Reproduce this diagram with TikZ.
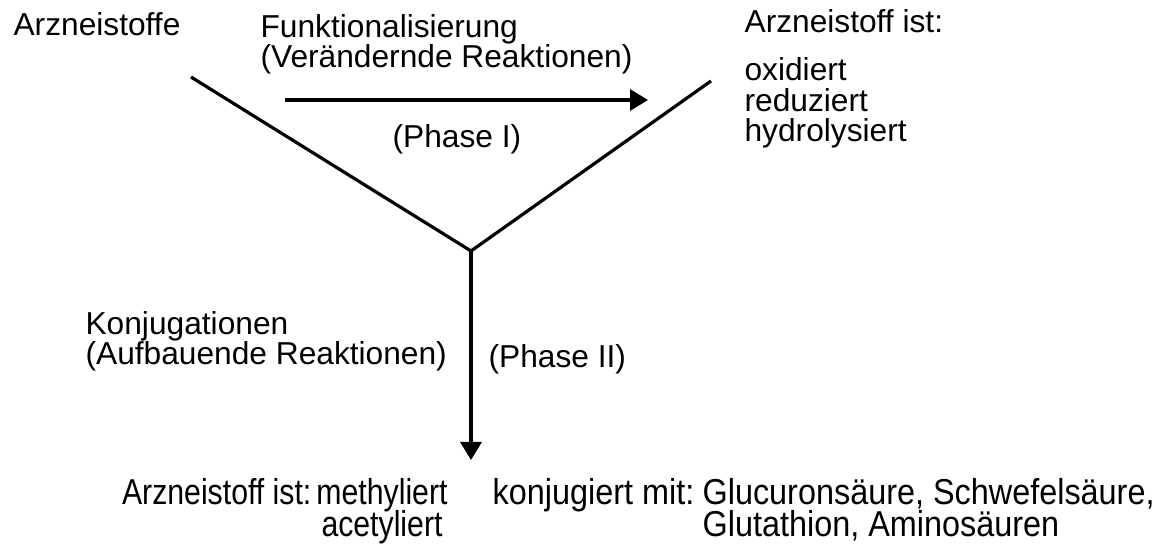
\documentclass[tikz,border=0pt]{standalone}
\usepackage{fontspec}
\setmainfont{Liberation Sans}
\newfontfamily\narrowfont[FakeStretch=0.9]{Liberation Sans}
\newfontfamily\narrowerfont[FakeStretch=0.84]{Liberation Sans}
\lineskiplimit=-\maxdimen
\usetikzlibrary{arrows.meta,positioning}
\tikzset{
  every picture/.style = {
    line width = 1.6pt,
    >={Triangle[length=9pt,width=10.5pt]},
    x = 0.5pt,
    y = -0.5pt
  }
  , % labels of phases and substances
  label-text/.style = {
    font = \fontsize{15.85}{15.25}\selectfont,
    inner sep = 0pt,
    align = left
  }
  , % labels under the arrow
  label-narrow/.style = {
    label-text,
    font = \narrowfont\fontsize{18}{16}\selectfont
  }
  ,
  label-narrower/.style = {
    label-text,
    font = \narrowerfont\fontsize{18}{16}\selectfont
  }
}
\begin{document}
\begin{tikzpicture}
    \useasboundingbox (0,0) rectangle (1162,544);
    \coordinate (tl) at (191,77);
    \coordinate (apex) at (471,251);
    \coordinate (tr) at (711,81);
    \coordinate (bot) at (471,460);
    \coordinate (ph1s) at (285,100);
    \coordinate (ph1e) at (648,100);
    \draw (tl) -- (apex) -- (tr);
    \draw [->] (apex) -- (bot);
    \draw [->] (ph1s) -- (ph1e);
    % phase I
    \node [label-text, anchor = base west] (drug) at (12,36) {Arzneistoffe};
    \node [label-text, anchor = base west] (func) at (259,68) {Funktionalisierung\\(Verändernde Reaktionen)};
    \node [label-text, anchor = base west] (ph1) at (391,148) {(Phase I)};
    \node [label-text, anchor = base west] (res1) at (743,33) {Arzneistoff ist:};
    \node [label-text, anchor = base west] (ox) at (743,142) {oxidiert\\reduziert\\hydrolysiert};
    % phase II
    \node [label-text, anchor = base west] (conj) at (84,365) {Konjugationen\\(Aufbauende Reaktionen)};
    \node [label-text, anchor = base west] (ph2) at (487,368) {(Phase II)};
    \node [label-narrower, anchor = base east] (res2) at (313,505) {Arzneistoff ist:};
    \node [label-narrower, anchor = base, align = center] (meth) at (382,537) {methyliert\\acetyliert};
    \node [label-narrow, anchor = base east] (with) at (696,505) {konjugiert mit:};
    \node [label-narrow, anchor = base west] (acid) at (701,537) {Glucuronsäure, Schwefelsäure,\\Glutathion, Aminosäuren};
\end{tikzpicture}
\end{document}
